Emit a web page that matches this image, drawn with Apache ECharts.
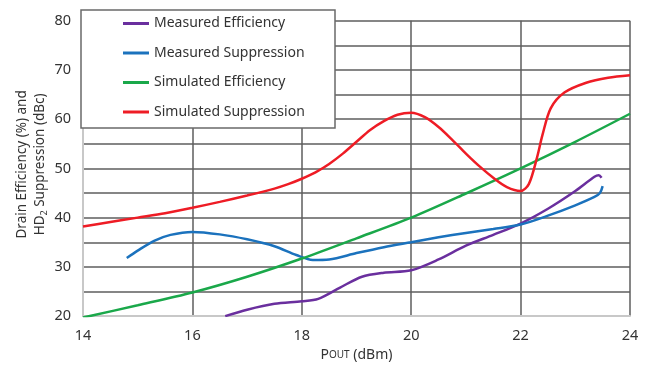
<!DOCTYPE html>
<html><head><meta charset="utf-8">
<script src="https://cdn.jsdelivr.net/npm/echarts@6/dist/echarts.min.js"></script>
<style>html,body{margin:0;padding:0;background:#fff}#c{width:652px;height:367px}</style>
</head><body><div id="c"></div>
<script>
const xTicks = [14, 16, 18, 20, 22, 24];
const yTicks = [20, 30, 40, 50, 60, 70, 80];
const seriesNames = ['Measured Efficiency', 'Measured Suppression', 'Simulated Efficiency', 'Simulated Suppression'];
const measEffX = [16.6, 17, 17.5, 18, 18.3, 18.7, 19.1, 19.5, 20, 20.5, 21, 21.5, 22, 22.5, 23, 23.35, 23.43, 23.48];
const measEffY = [20.0, 21.3, 22.5, 23.0, 23.5, 25.8, 28.0, 28.8, 29.3, 31.5, 34.3, 36.5, 38.8, 41.8, 45.4, 48.3, 48.6, 48.1];
const measSupX = [14.8, 15.0, 15.3, 15.6, 16, 16.5, 17, 17.5, 17.9, 18.2, 18.5, 19, 19.5, 20, 20.5, 21, 21.5, 22, 22.5, 23, 23.35, 23.45, 23.5];
const measSupY = [31.8, 33.3, 35.3, 36.5, 37.1, 36.6, 35.6, 34.2, 32.4, 31.4, 31.5, 32.8, 34.0, 35.0, 36.0, 36.9, 37.7, 38.6, 40.4, 42.5, 44.2, 45.0, 46.4];
const simEffX = [14, 15, 16, 17, 18, 19, 20, 21, 22, 23, 24];
const simEffY = [19.7, 22.2, 24.8, 28.0, 31.7, 35.8, 40.0, 44.9, 50.0, 55.4, 61.1];
const simSupX = [14, 14.5, 15, 15.5, 16, 16.5, 17, 17.5, 17.75, 18, 18.25, 18.5, 18.75, 19, 19.25, 19.5, 19.75, 20, 20.25, 20.5, 20.75, 21, 21.25, 21.5, 21.75, 22, 22.15, 22.3, 22.4, 22.55, 22.8, 23.2, 23.6, 24];
const simSupY = [38.2, 39.1, 40.0, 40.9, 42.0, 43.2, 44.5, 45.9, 46.8, 47.9, 49.2, 50.9, 53.0, 55.4, 57.8, 59.6, 60.9, 61.3, 60.4, 58.4, 55.8, 53.0, 50.4, 48.1, 46.2, 45.4, 46.8, 52.2, 56.8, 62.2, 65.4, 67.4, 68.4, 68.9];

const colors = ['#6a2f9e', '#1b72bd', '#1aa84a', '#ee1c25'];
const xs = [measEffX, measSupX, simEffX, simSupX];
const ys = [measEffY, measSupY, simEffY, simSupY];

const chart = echarts.init(document.getElementById('c'), null, {renderer: 'canvas'});
const font = 'Noto Sans';
chart.setOption({
  animation: false,
  textStyle: {fontFamily: font},
  grid: {left: 83, right: 22, top: 20.7, bottom: 48.7},
  xAxis: {
    type: 'value', min: xTicks[0], max: xTicks[xTicks.length - 1], interval: 2,
    axisLine: {show: true, lineStyle: {color: '#c8c8c8', width: 2}},
    axisTick: {show: false},
    axisLabel: {color: '#333', fontSize: 14.5, margin: 12, fontFamily: font},
    splitLine: {show: true, showMinLine: false, lineStyle: {color: '#5e5e5e', width: 1.5}},
    name: '{p|P}{s|OUT} (dBm)', nameLocation: 'middle', nameGap: 26,
    nameTextStyle: {color: '#333', fontSize: 14, fontFamily: font,
      rich: {p: {fontSize: 14, color: '#333'}, s: {fontSize: 10, color: '#333'}}}
  },
  yAxis: {
    type: 'value', min: yTicks[0], max: yTicks[yTicks.length - 1], interval: 5,
    axisLine: {show: true, lineStyle: {color: '#c8c8c8', width: 2}},
    axisTick: {show: false},
    axisLabel: {color: '#333', fontSize: 14.5, margin: 12, fontFamily: font,
      formatter: v => yTicks.includes(v) ? String(v) : ''},
    splitLine: {show: true, showMinLine: false, lineStyle: {color: '#5e5e5e', width: 1.5}},
    name: '{m|Drain Efficiency (%) and}\n{m|HD}{sub|2}{m| Suppression (dBc)}', nameLocation: 'middle', nameGap: 34,
    nameMoveOverlap: false,
    nameTextStyle: {color: '#333', fontSize: 13.5, lineHeight: 18, fontFamily: font, align: 'center',
      padding: [0, 0, 0, 8],
      rich: {
        m: {fontSize: 13.5, lineHeight: 18, color: '#333', fontFamily: font},
        sub: {fontSize: 9, lineHeight: 18, verticalAlign: 'bottom', padding: [8, 0, 0, 0], color: '#333', fontFamily: font}
      }}
  },
  graphic: [{
    type: 'rect', z: 10, shape: {x: 81, y: 10, width: 254, height: 118},
    style: {fill: '#fff', stroke: '#6a6a6a', lineWidth: 1.5}
  }],
  legend: {
    z: 20, orient: 'vertical', left: 123, top: 15.5, padding: 0, itemGap: 13.5,
    icon: 'rect', itemWidth: 26, itemHeight: 3,
    textStyle: {color: '#333', fontSize: 14, lineHeight: 16, fontFamily: font},
    data: seriesNames
  },
  series: seriesNames.map((n, i) => ({
    name: n, type: 'line', smooth: 0.3, showSymbol: false, clip: true,
    color: colors[i],
    lineStyle: {color: colors[i], width: 2.5},
    data: xs[i].map((x, j) => [x, ys[i][j]])
  }))
});
</script></body></html>
